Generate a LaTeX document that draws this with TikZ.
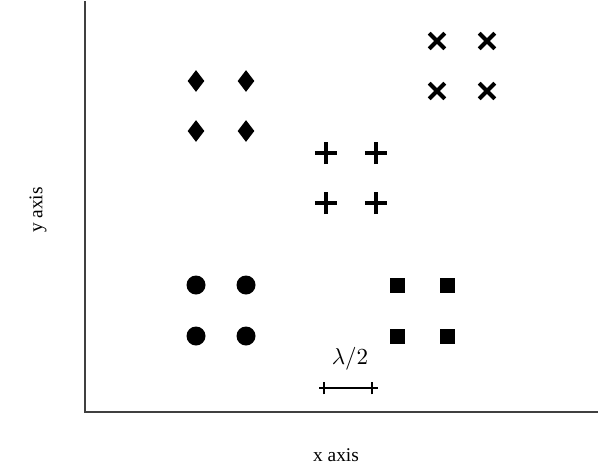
\documentclass[tikz,border=0pt]{standalone}
\usepackage{fontspec}
\setmainfont{Liberation Serif}
\usepackage{tikz}
\usetikzlibrary{shapes.geometric,shapes.misc}

\begin{document}
\begin{tikzpicture}[x=0.5pt,y=-0.5pt,font=\fontsize{9.7}{12}\selectfont]
  \tikzstyle{dot}=[circle,fill=black,inner sep=0pt,minimum size=9.5pt]
  \tikzstyle{box}=[rectangle,fill=black,inner sep=0pt,minimum size=7.5pt]
  \tikzstyle{rhomb}=[diamond,fill=black,inner sep=0pt,minimum width=8.5pt,minimum height=11pt]
  \tikzstyle{xmark}=[cross out,draw=black,line width=2pt,inner sep=0pt,minimum size=5.8pt]
  \tikzstyle{pmark}=[xmark,rotate=45]
  \tikzstyle{axis}=[line width=0.75pt,black!75]
  \tikzstyle{bar}=[line width=1.1pt]

  \useasboundingbox (0,0) rectangle (608,466);

  % axes
  \coordinate (o) at (85,412);
  \coordinate (top) at (85,1);
  \coordinate (right) at (598,412);
  \draw [axis] (top) -- (o) -- (right);
  \node (xlab) at (336,455) {x axis};
  \node [rotate=90] (ylab) at (38,210) {y axis};

  % groups of four
  \foreach \i/\x in {1/196,2/246} {
    \foreach \j/\y in {1/81,2/131}
      \node [rhomb] (d\i\j) at (\x,\y) {};
    \foreach \j/\y in {1/285,2/336}
      \node [dot] (c\i\j) at (\x,\y) {};
  }
  \foreach \i/\x in {1/326,2/376}
    \foreach \j/\y in {1/153,2/203}
      \node [pmark] (p\i\j) at (\x,\y) {};
  \foreach \i/\x in {1/437,2/487}
    \foreach \j/\y in {1/41,2/91}
      \node [xmark] (x\i\j) at (\x,\y) {};
  \foreach \i/\x in {1/397,2/447}
    \foreach \j/\y in {1/285,2/336}
      \node [box] (s\i\j) at (\x,\y) {};

  % half wavelength
  \coordinate (l1) at (319,388);
  \coordinate (l2) at (378,388);
  \draw [bar] (l1) -- (l2);
  \coordinate (t1) at (324,388);
  \coordinate (t2) at (372,388);
  \draw [bar] ([yshift=-3.2]t1) -- ([yshift=3.2]t1);
  \draw [bar] ([yshift=-3.2]t2) -- ([yshift=3.2]t2);
  \node [scale=1.15] (lam) at (350,359) {$\lambda/2$};
\end{tikzpicture}
\end{document}
